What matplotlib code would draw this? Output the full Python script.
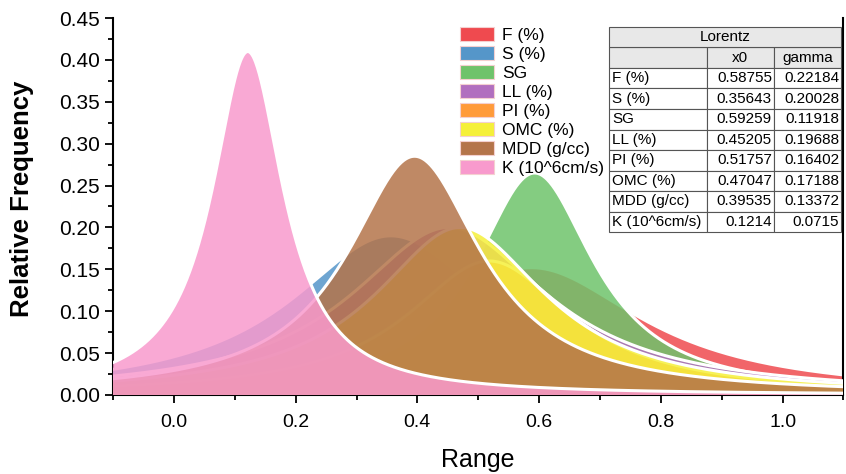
import numpy as np
import matplotlib.pyplot as plt
from matplotlib.patches import Patch, Rectangle
from matplotlib.ticker import MultipleLocator

# Lorentz fit parameters per soil property
names = ["F (%)", "S (%)", "SG", "LL (%)", "PI (%)", "OMC (%)", "MDD (g/cc)", "K (10^6cm/s)"]
x0 = [0.58755, 0.35643, 0.59259, 0.45205, 0.51757, 0.47047, 0.39535, 0.1214]
gamma = [0.22184, 0.20028, 0.11918, 0.19688, 0.16402, 0.17188, 0.13372, 0.0715]
x0_txt = ["0.58755", "0.35643", "0.59259", "0.45205", "0.51757", "0.47047", "0.39535", "0.1214"]
gamma_txt = ["0.22184", "0.20028", "0.11918", "0.19688", "0.16402", "0.17188", "0.13372", "0.0715"]
# peak heights of each curve
peak = [0.152, 0.19, 0.265, 0.20, 0.16, 0.20, 0.285, 0.41]
colors = ["#EF4A4F", "#5596C9", "#6FC36B", "#B16FBF", "#FF9B3A", "#F5F03A", "#B4744A", "#F89ACD"]

plt.rcParams['font.family'] = ['Liberation Sans', 'DejaVu Sans']

fig = plt.figure(figsize=(8.46, 4.74), dpi=100)
ax = fig.add_axes([0.1336, 0.1667, 0.8634, 0.7953])

x = np.linspace(-0.1, 1.1, 1200)
for i in range(len(names)):
    y = peak[i] / (1 + ((x - x0[i]) / gamma[i]) ** 2)
    ax.fill_between(x, 0, y, facecolor=colors[i], alpha=0.85, edgecolor='none', zorder=2 + i)
    ax.plot(x, y, color='white', lw=2.2, zorder=2 + i)

ax.set_xlim(-0.1, 1.1)
ax.set_ylim(0, 0.45)
ax.xaxis.set_minor_locator(MultipleLocator(0.1))
ax.yaxis.set_minor_locator(MultipleLocator(0.025))
ax.set_xticks([0.0, 0.2, 0.4, 0.6, 0.8, 1.0])
ax.set_xticklabels(["0.0", "0.2", "0.4", "0.6", "0.8", "1.0"], fontsize=14)
ax.set_yticks(np.arange(0, 0.451, 0.05))
ax.set_yticklabels(["%.2f" % v for v in np.arange(0, 0.451, 0.05)], fontsize=15)
ax.tick_params(which='major', direction='out', length=6, width=1.3)
ax.tick_params(which='minor', direction='out', length=3.5, width=1.3)
ax.tick_params(axis='x', which='both', top=False, pad=8)
ax.tick_params(axis='y', which='both', right=False)
for s in ['left', 'bottom', 'right']:
    ax.spines[s].set_linewidth(1.5)
ax.spines['top'].set_visible(False)

ax.set_ylabel("Relative Frequency", fontsize=18.5, fontweight='bold')
ax.yaxis.set_label_coords(-0.108, 0.52)
ax.set_xlabel("Range", fontsize=18, labelpad=12)

handles = [Patch(facecolor=c, edgecolor='#f4d0d0', lw=0.8) for c in colors]
ax.legend(handles, names, loc='upper left', bbox_to_anchor=(0.465, 0.995), frameon=False,
          fontsize=12.5, handlelength=2.0, handleheight=0.85, labelspacing=0.18,
          handletextpad=0.45, borderaxespad=0)

# parameter table
rows = [["", "x0", "gamma"]] + [[names[i], x0_txt[i], gamma_txt[i]] for i in range(len(names))]
tb = ax.table(cellText=rows, bbox=[0.679, 0.432, 0.318, 0.49], colWidths=[0.42, 0.29, 0.29],
              zorder=20)
tb.auto_set_font_size(False)
tb.set_fontsize(11)
for (r, c), cell in tb.get_celld().items():
    cell.set_edgecolor('#555555')
    cell.set_linewidth(0.8)
    cell.PAD = 0.03
    if r == 0:
        cell.set_facecolor('#e8e8e8')
        cell.get_text().set_ha('center')
    else:
        cell.set_facecolor('white')
        cell.get_text().set_ha('left' if c == 0 else 'right')
ax.add_patch(Rectangle((0.679, 0.922), 0.318, 0.054, transform=ax.transAxes, facecolor='#e8e8e8',
                       edgecolor='#555555', lw=0.8, zorder=20, clip_on=False))
ax.text(0.679 + 0.159, 0.949, "Lorentz", transform=ax.transAxes, ha='center', va='center',
        fontsize=11, zorder=21)

fig.savefig("out.png", dpi=100)
